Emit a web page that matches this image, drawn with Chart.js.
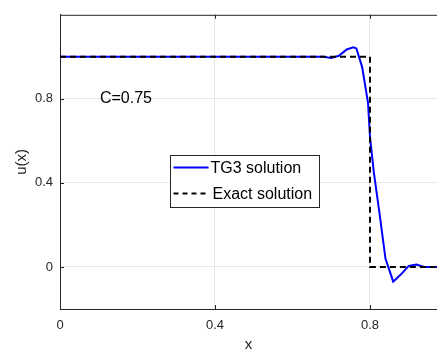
<!DOCTYPE html>
<html>
<head>
    <title>TG3 vs exact</title>
    <script src="https://cdn.jsdelivr.net/npm/chart.js"></script>
    <style>
        html, body { margin: 0; padding: 0; background: #fff; }
        #wrap { width: 437px; height: 354px; }
    </style>
</head>
<body>
    <div id="wrap"><canvas id="c"></canvas></div>
    <script>
        // values
        const tgX = [0, 0.68, 0.70, 0.72, 0.74, 0.757, 0.765, 0.78, 0.795, 0.80, 0.81, 0.825, 0.84, 0.86, 0.88, 0.90, 0.92, 0.94, 0.973];
        const tgU = [1, 1, 0.995, 1.005, 1.035, 1.045, 1.04, 0.95, 0.78, 0.62, 0.45, 0.25, 0.04, -0.07, -0.035, 0.005, 0.012, 0.0, 0.0];
        const exactX = [0, 0.8, 0.8, 0.973];
        const exactU = [1, 1, 0, 0];
        const xTicks = [0, 0.4, 0.8];
        const yTicks = [0, 0.4, 0.8];
        const labelTG = 'TG3 solution';
        const labelExact = 'Exact solution';
        const note = 'C=0.75';

        const FONT = 'Arial, "Liberation Sans", sans-serif';

        const extras = {
            id: 'extras',
            afterDraw(chart) {
                const { ctx, chartArea: a, scales } = chart;
                ctx.save();
                // top border + inward tick marks
                ctx.strokeStyle = '#262626';
                ctx.lineWidth = 1;
                ctx.beginPath();
                ctx.moveTo(a.left, a.top + 0.5);
                ctx.lineTo(a.right, a.top + 0.5);
                xTicks.forEach(v => {
                    const px = Math.round(scales.x.getPixelForValue(v)) + 0.5;
                    ctx.moveTo(px, a.bottom); ctx.lineTo(px, a.bottom - 4);
                    ctx.moveTo(px, a.top); ctx.lineTo(px, a.top + 4);
                });
                yTicks.forEach(v => {
                    const py = Math.round(scales.y.getPixelForValue(v)) + 0.5;
                    ctx.moveTo(a.left, py); ctx.lineTo(a.left + 4, py);
                });
                ctx.stroke();

                // annotation
                ctx.fillStyle = '#000';
                ctx.font = '16px ' + FONT;
                ctx.textBaseline = 'middle';
                ctx.fillText(note, scales.x.getPixelForValue(0.103), scales.y.getPixelForValue(0.8));

                // legend box
                const bx = 170.5, by = 155.5, bw = 149, bh = 52;
                ctx.fillStyle = '#fff';
                ctx.fillRect(bx, by, bw, bh);
                ctx.strokeStyle = '#262626';
                ctx.lineWidth = 1;
                ctx.strokeRect(bx, by, bw, bh);
                ctx.lineWidth = 2;
                ctx.strokeStyle = '#0000ff';
                ctx.beginPath();
                ctx.moveTo(bx + 3, by + 12); ctx.lineTo(bx + 38, by + 12);
                ctx.stroke();
                ctx.strokeStyle = '#000';
                ctx.setLineDash([5, 4]);
                ctx.beginPath();
                ctx.moveTo(bx + 3, by + 38); ctx.lineTo(bx + 38, by + 38);
                ctx.stroke();
                ctx.setLineDash([]);
                ctx.fillStyle = '#000';
                ctx.font = '16px ' + FONT;
                ctx.fillText(labelTG, bx + 40, by + 13);
                ctx.fillText(labelExact, bx + 42, by + 39);
                ctx.restore();
            }
        };

        new Chart(document.getElementById('c'), {
            type: 'scatter',
            data: {
                datasets: [
                    {
                        label: labelExact,
                        data: exactX.map((x, i) => ({ x, y: exactU[i] })),
                        showLine: true,
                        borderColor: '#000',
                        borderWidth: 2,
                        borderDash: [6, 4],
                        pointRadius: 0,
                        tension: 0
                    },
                    {
                        label: labelTG,
                        data: tgX.map((x, i) => ({ x, y: tgU[i] })),
                        showLine: true,
                        borderColor: '#0000ff',
                        borderWidth: 2,
                        pointRadius: 0,
                        tension: 0
                    }
                ]
            },
            options: {
                responsive: true,
                maintainAspectRatio: false,
                animation: false,
                layout: { padding: { top: 10, right: 0, left: 0, bottom: 0 } },
                plugins: { legend: { display: false }, tooltip: { enabled: false } },
                scales: {
                    x: {
                        type: 'linear',
                        min: 0, max: 0.973,
                        afterBuildTicks: s => { s.ticks = xTicks.map(v => ({ value: v })); },
                        afterFit: s => { s.height = 45; },
                        grid: { color: '#e6e6e6', drawTicks: false },
                        border: { color: '#262626' },
                        ticks: { padding: 9, color: '#262626', font: { size: 13, family: FONT }, callback: v => String(v) },
                        title: { display: true, text: 'x', color: '#262626', font: { size: 15, family: FONT }, padding: { top: 1, bottom: 0 } }
                    },
                    y: {
                        min: -0.2, max: 1.2,
                        afterBuildTicks: s => { s.ticks = yTicks.map(v => ({ value: v })); },
                        afterFit: s => { s.width = 60; },
                        grid: { color: '#e6e6e6', drawTicks: false },
                        border: { color: '#262626' },
                        ticks: { padding: 7, color: '#262626', font: { size: 13, family: FONT }, callback: v => String(v) },
                        title: { display: true, text: 'u(x)', color: '#262626', font: { size: 15, family: FONT }, padding: { top: 13, bottom: 4 } }
                    }
                }
            },
            plugins: [extras]
        });
    </script>
</body>
</html>
